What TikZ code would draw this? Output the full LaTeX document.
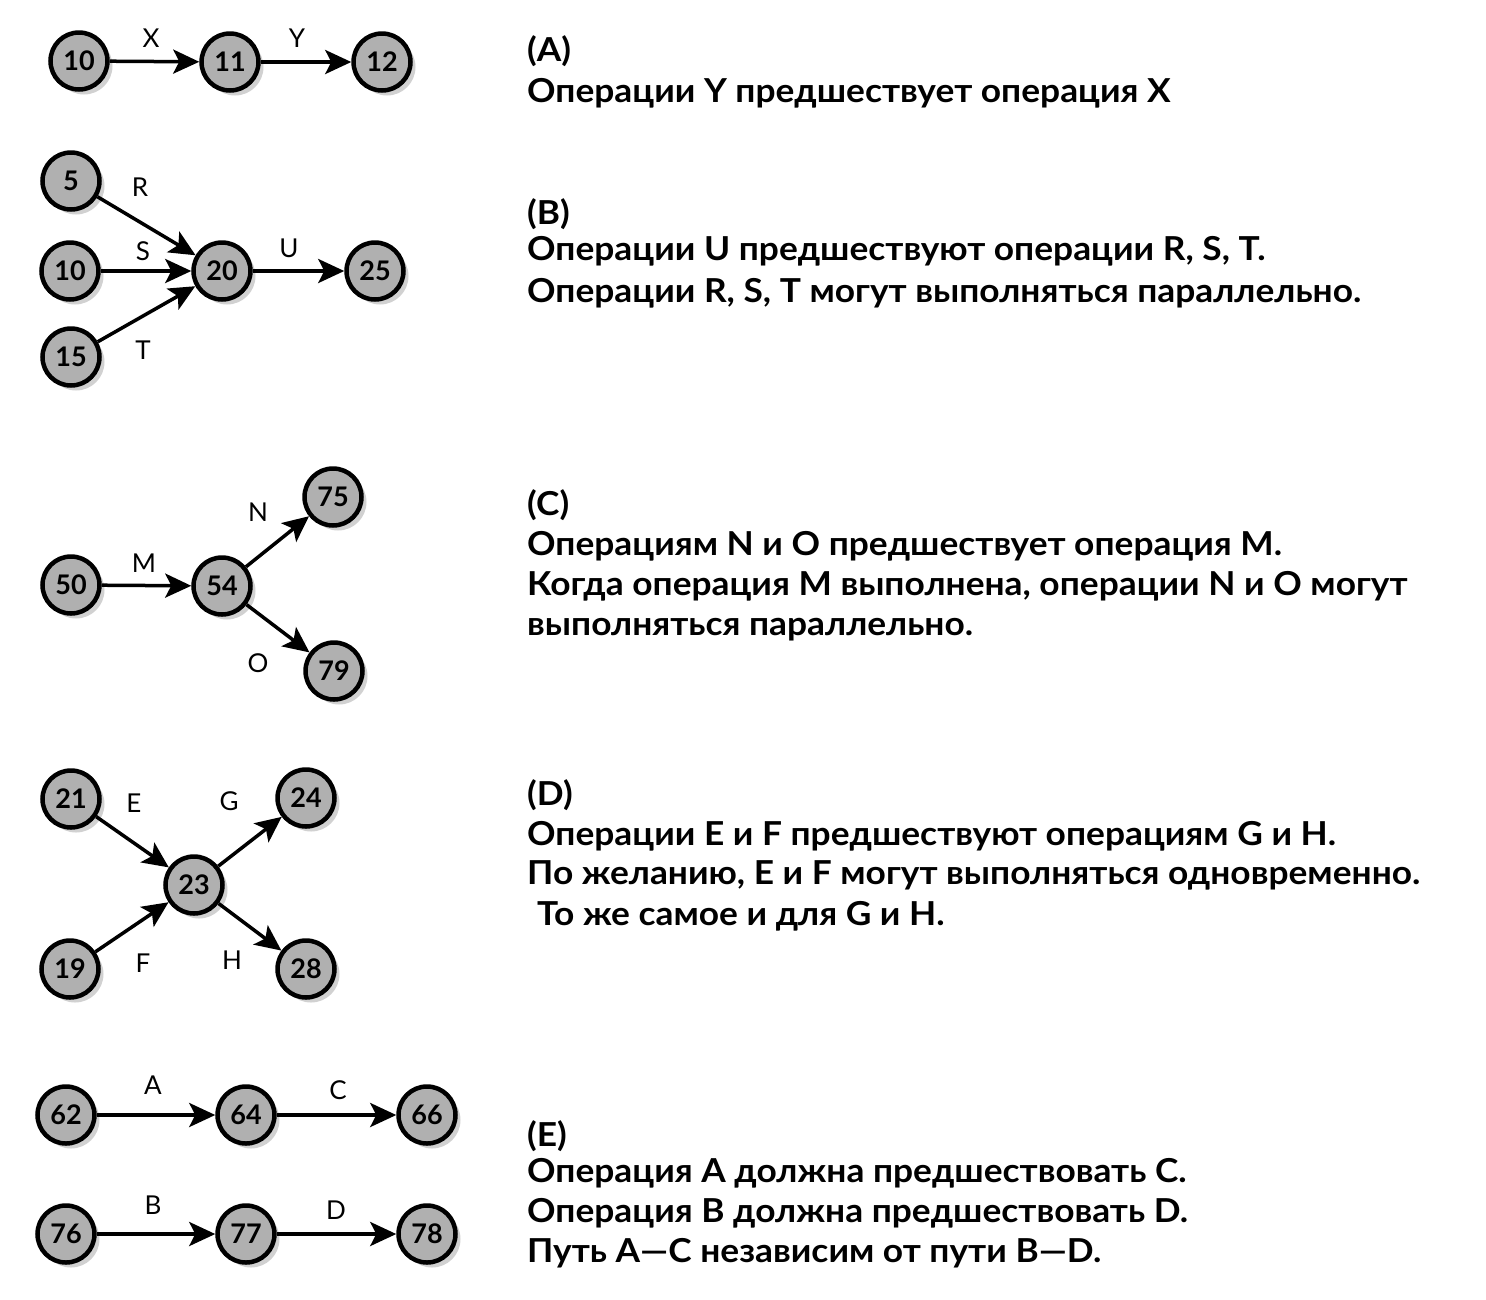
\documentclass[tikz,border=0pt]{standalone}
\usepackage{fontspec}
\setmainfont{Lato}
\usetikzlibrary{arrows.meta,shadows}
\tikzset{
  ev/.style={circle, draw=black, line width=4.5pt, fill=gray!62, minimum size=57pt, inner sep=0pt,
    font=\fontsize{27}{27}\selectfont\bfseries,
    drop shadow={shadow xshift=5pt, shadow yshift=-5pt, fill=gray!45, opacity=0.8}},
  arr/.style={line width=3.5pt, -{Stealth[length=26pt,width=24pt,inset=6pt]}},
  lab/.style={inner sep=0pt, font=\fontsize{26}{26}\selectfont},
  txt/.style={anchor=base west, inner sep=0pt, font=\fontsize{33}{33}\selectfont\addfontfeatures{FakeStretch=1.07}\bfseries}
}
\begin{document}
\begin{tikzpicture}[x=1pt,y=-1pt]
\useasboundingbox[fill=white] (0,0) rectangle (1486,1299);
% (A)
\node[ev] (a10) at (79,61) {10};
\node[ev] (a11) at (230,62) {11};
\node[ev] (a12) at (382,62) {12};
\draw[arr] (a10) -- (a11);
\draw[arr] (a11) -- (a12);
\node[lab] (lx) at (151,38) {X};
\node[lab] (ly) at (297,38) {Y};
% (B)
\node[ev] (b5) at (71,181) {5};
\node[ev] (b10) at (70,271) {10};
\node[ev] (b15) at (71,357) {15};
\node[ev] (b20) at (222,271) {20};
\node[ev] (b25) at (375,271) {25};
\draw[arr] (b5) -- (b20);
\draw[arr] (b10) -- (b20);
\draw[arr] (b15) -- (b20);
\draw[arr] (b20) -- (b25);
\node[lab] (lr) at (140,187) {R};
\node[lab] (ls) at (143,251) {S};
\node[lab] (lt) at (143,350) {T};
\node[lab] (lu) at (289,248) {U};
% (C)
\node[ev] (c50) at (71,585) {50};
\node[ev] (c54) at (222,586) {54};
\node[ev] (c75) at (333,497) {75};
\node[ev] (c79) at (334,671) {79};
\draw[arr] (c50) -- (c54);
\draw[arr] (c54) -- (c75);
\draw[arr] (c54) -- (c79);
\node[lab] (lm) at (144,563) {M};
\node[lab] (ln) at (258,512) {N};
\node[lab] (lo) at (258,663) {O};
% (D)
\node[ev] (d21) at (71,799) {21};
\node[ev] (d19) at (70,969) {19};
\node[ev] (d23) at (194,885) {23};
\node[ev] (d24) at (306,798) {24};
\node[ev] (d28) at (306,969) {28};
\draw[arr] (d21) -- (d23);
\draw[arr] (d19) -- (d23);
\draw[arr] (d23) -- (d24);
\draw[arr] (d23) -- (d28);
\node[lab] (le) at (134,803) {E};
\node[lab] (lg) at (229,801) {G};
\node[lab] (lf) at (143,963) {F};
\node[lab] (lh) at (232,960) {H};
% (E)
\node[ev] (e62) at (66,1115) {62};
\node[ev] (e64) at (246,1115) {64};
\node[ev] (e66) at (427,1115) {66};
\node[ev] (e76) at (66,1234) {76};
\node[ev] (e77) at (246,1234) {77};
\node[ev] (e78) at (427,1234) {78};
\draw[arr] (e62) -- (e64);
\draw[arr] (e64) -- (e66);
\draw[arr] (e76) -- (e77);
\draw[arr] (e77) -- (e78);
\node[lab] (la) at (153,1085) {A};
\node[lab] (lc) at (338,1090) {C};
\node[lab] (lb) at (153,1205) {B};
\node[lab] (ld) at (336,1210) {D};
% texts
\node[txt] (ta0) at (527,61) {(A)};
\node[txt] (ta1) at (527,102) {Операции Y предшествует операция X};
\node[txt] (tb0) at (527,224) {(B)};
\node[txt] (tb1) at (527,260) {Операции U предшествуют операции R, S, T.};
\node[txt] (tb2) at (527,302) {Операции R, S, T могут выполняться параллельно.};
\node[txt] (tc0) at (527,515) {(C)};
\node[txt] (tc1) at (527,555) {Операциям N и O предшествует операция M.};
\node[txt] (tc2) at (527,595) {Когда операция M выполнена, операции N и O могут};
\node[txt] (tc3) at (527,635) {выполняться параллельно.};
\node[txt] (td0) at (527,805) {(D)};
\node[txt] (td1) at (527,845) {Операции E и F предшествуют операциям G и H.};
\node[txt] (td2) at (527,884) {По желанию, E и F могут выполняться одновременно.};
\node[txt] (td3) at (537,925) {То же самое и для G и H.};
\node[txt] (te0) at (527,1146) {(E)};
\node[txt] (te1) at (527,1182) {Операция A должна предшествовать C.};
\node[txt] (te2) at (527,1222) {Операция B должна предшествовать D.};
\node[txt] (te3) at (527,1262) {Путь A—C независим от пути B—D.};
\end{tikzpicture}
\end{document}
